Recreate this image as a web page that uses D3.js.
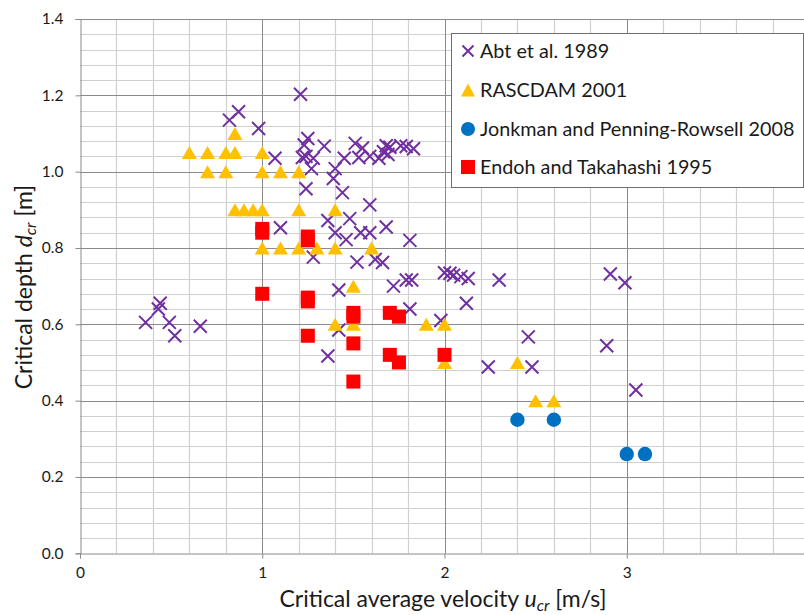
<!DOCTYPE html>
<html><head><meta charset="utf-8">
<script src="https://cdn.jsdelivr.net/npm/d3@7"></script>
<style>html,body{margin:0;padding:0;background:#fff;overflow:hidden}svg{display:block}text{font-family:Lato,"Open Sans",sans-serif;fill:#1a1a1a}</style>
</head><body><svg id="c" width="804" height="615"></svg>
<script>
// ---- data ----
const seriesNames = ["Abt et al. 1989", "RASCDAM 2001", "Jonkman and Penning-Rowsell 2008", "Endoh and Takahashi 1995"];
const abtU = [0.36,0.43,0.44,0.49,0.52,0.66,0.82,0.87,0.98,1.21,1.07,1.10,1.25,1.23,1.22,1.24,1.28,1.27,1.24,1.34,1.40,1.39,1.44,1.45,1.51,1.55,1.53,1.59,1.64,1.665,1.68,1.69,1.70,1.76,1.79,1.83,1.59,1.36,1.48,1.40,1.46,1.54,1.59,1.68,1.81,1.28,1.52,1.62,1.66,1.72,1.79,1.82,1.42,2.00,2.03,2.05,2.09,2.13,2.30,1.81,2.12,1.98,1.42,1.36,2.24,2.46,2.48,2.91,2.99,2.89,3.05];
const abtD = [0.605,0.64,0.655,0.605,0.57,0.595,1.135,1.157,1.113,1.203,1.035,0.853,1.087,1.07,1.037,1.04,1.035,1.008,0.955,1.067,1.008,0.982,0.945,1.035,1.074,1.062,1.037,1.04,1.035,1.052,1.068,1.045,1.064,1.068,1.066,1.06,0.913,0.872,0.877,0.84,0.822,0.84,0.84,0.855,0.82,0.776,0.763,0.77,0.762,0.70,0.716,0.716,0.69,0.735,0.734,0.729,0.725,0.72,0.716,0.64,0.655,0.61,0.585,0.517,0.488,0.567,0.488,0.732,0.709,0.544,0.428];
const rasU = [0.6,0.7,0.8,0.85,1.0,0.85,0.7,0.8,1.0,1.1,1.2,0.85,0.9,0.95,1.0,1.2,1.4,1.0,1.1,1.2,1.3,1.4,1.6,1.5,1.4,1.5,1.9,2.0,2.0,2.4,2.5,2.6];
const rasD = [1.05,1.05,1.05,1.05,1.05,1.10,1.0,1.0,1.0,1.0,1.0,0.9,0.9,0.9,0.9,0.9,0.9,0.8,0.8,0.8,0.8,0.8,0.8,0.7,0.6,0.6,0.6,0.6,0.5,0.5,0.4,0.4];
const jonU = [2.4,2.6,3.0,3.1];
const jonD = [0.35,0.35,0.26,0.26];
const endU = [1.0,1.0,1.0,1.25,1.25,1.25,1.25,1.25,1.5,1.5,1.5,1.5,1.7,1.75,1.7,1.75,2.0];
const endD = [0.85,0.84,0.68,0.83,0.82,0.67,0.66,0.57,0.63,0.62,0.55,0.45,0.63,0.62,0.52,0.50,0.52];
const xTicks = [0,1,2,3,4];
const yTicks = [0,0.2,0.4,0.6,0.8,1.0,1.2,1.4];

// ---- layout ----
const svg = d3.select("#c");
const x = d3.scaleLinear().domain([0,4]).range([80, 809]);
const y = d3.scaleLinear().domain([0,1.4]).range([553.3, 19]);
const colors = {abt:"#7030A0", ras:"#FFC000", jon:"#0070C0", end:"#FF0000"};

const g = svg.append("g");
// minor grid
const xMinor = d3.range(0, 4.001, 0.2).filter(v => Math.abs(v - Math.round(v)) > 1e-6);
const yMinor = d3.range(0, 1.4001, 0.04).filter(v => Math.abs(v*5 - Math.round(v*5)) > 1e-6);
g.selectAll(".xm").data(xMinor).join("line").attr("x1", d=>Math.round(x(d))+0.5).attr("x2", d=>Math.round(x(d))+0.5)
  .attr("y1", y(0)).attr("y2", y(1.4)).attr("stroke","#d0d0d0").attr("stroke-width",1.2);
g.selectAll(".ym").data(yMinor).join("line").attr("y1", d=>Math.round(y(d))+0.5).attr("y2", d=>Math.round(y(d))+0.5)
  .attr("x1", x(0)).attr("x2", x(4)).attr("stroke","#d0d0d0").attr("stroke-width",1.2);
// major grid
g.selectAll(".xM").data(xTicks.slice(1)).join("line").attr("x1", d=>Math.round(x(d))+0.5).attr("x2", d=>Math.round(x(d))+0.5)
  .attr("y1", y(0)).attr("y2", y(1.4)).attr("stroke","#8a8a8a").attr("stroke-width",1);
g.selectAll(".yM").data(yTicks.slice(1)).join("line").attr("y1", d=>Math.round(y(d))+0.5).attr("y2", d=>Math.round(y(d))+0.5)
  .attr("x1", x(0)).attr("x2", x(4)).attr("stroke","#8a8a8a").attr("stroke-width",1);

// axes
const xAxis = d3.axisBottom(x).tickValues(xTicks).tickFormat(d3.format("d")).tickSize(5).tickPadding(8);
const yAxis = d3.axisLeft(y).tickValues(yTicks).tickFormat(d3.format(".1f")).tickSize(5).tickPadding(12);
const gx = svg.append("g").attr("transform", `translate(0,${Math.round(y(0))+0.5})`).call(xAxis);
const gy = svg.append("g").attr("transform", `translate(${Math.round(x(0))+0.5},0)`).call(yAxis);
[gx, gy].forEach(a => {
  a.select(".domain").attr("stroke","#8a8a8a");
  a.selectAll(".tick line").attr("stroke","#8a8a8a");
  a.selectAll(".tick text").attr("font-size", 15.5).attr("fill","#1a1a1a").attr("font-family","Lato, 'Open Sans', sans-serif");
});

// axis titles
const yt = svg.append("text").attr("transform", "translate(32,287) rotate(-90)").attr("text-anchor","middle").attr("font-size",23);
yt.append("tspan").text("Critical depth ");
yt.append("tspan").attr("font-style","italic").text("d");
yt.append("tspan").attr("font-style","italic").attr("font-size",16).attr("dy",4).text("cr");
yt.append("tspan").attr("dy",-4).text(" [m]");
const xt = svg.append("text").attr("x", 443).attr("y", 607).attr("text-anchor","middle").attr("font-size",23);
xt.append("tspan").text("Critical average velocity ");
xt.append("tspan").attr("font-style","italic").text("u");
xt.append("tspan").attr("font-style","italic").attr("font-size",16).attr("dy",3.5).text("cr");
xt.append("tspan").attr("dy",-3.5).text(" [m/s]");

// markers
const crossPath = s => `M${-s},${-s}L${s},${s}M${-s},${s}L${s},${-s}`;
const triPath = (w,h) => `M0,${-h/2}L${w/2},${h/2}L${-w/2},${h/2}Z`;
const abt = abtU.map((u,i)=>({u, d:abtD[i]}));
const ras = rasU.map((u,i)=>({u, d:rasD[i]}));
const jon = jonU.map((u,i)=>({u, d:jonD[i]}));
const end = endU.map((u,i)=>({u, d:endD[i]}));

const pts = svg.append("g");
pts.selectAll(".abt").data(abt).join("path").attr("d", crossPath(6.5))
  .attr("transform", d=>`translate(${x(d.u)},${y(d.d)})`).attr("stroke", colors.abt).attr("stroke-width",2).attr("fill","none");
pts.selectAll(".ras").data(ras).join("path").attr("d", triPath(15,13))
  .attr("transform", d=>`translate(${x(d.u)},${y(d.d)})`).attr("fill", colors.ras);
pts.selectAll(".jon").data(jon).join("circle").attr("r",7.2)
  .attr("cx", d=>x(d.u)).attr("cy", d=>y(d.d)).attr("fill", colors.jon);
pts.selectAll(".end").data(end).join("rect").attr("width",14).attr("height",14)
  .attr("x", d=>x(d.u)-7).attr("y", d=>y(d.d)-7).attr("fill", colors.end);

// legend
const lg = svg.append("g").attr("transform","translate(451,33)");
lg.append("rect").attr("x",0.5).attr("y",0.5).attr("width",352).attr("height",154).attr("fill","#fff").attr("stroke","#6e6e6e").attr("stroke-width",1);
const rows = [18, 57, 96, 134];
const lx = 17;
lg.append("path").attr("d", crossPath(5.5)).attr("transform",`translate(${lx},${rows[0]})`).attr("stroke",colors.abt).attr("stroke-width",2).attr("fill","none");
lg.append("path").attr("d", triPath(14,13)).attr("transform",`translate(${lx},${rows[1]})`).attr("fill",colors.ras);
lg.append("circle").attr("r",7).attr("cx",lx).attr("cy",rows[2]).attr("fill",colors.jon);
lg.append("rect").attr("x",lx-7).attr("y",rows[3]-7).attr("width",14).attr("height",14).attr("fill",colors.end);
lg.selectAll(".lt").data(seriesNames).join("text").attr("x", 29).attr("y",(d,i)=>rows[i]).attr("dy","0.35em")
  .attr("font-size",19.8).text(d=>d);
</script></body></html>
